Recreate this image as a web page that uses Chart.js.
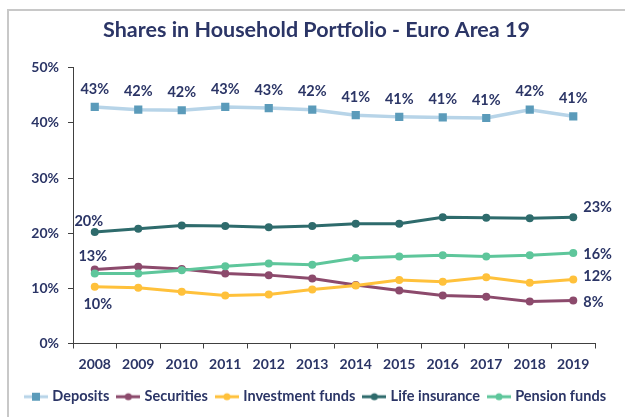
<!DOCTYPE html>
<html>
<head>
<meta charset="utf-8">
<script src="https://cdn.jsdelivr.net/npm/chart.js@4.4.0/dist/chart.umd.min.js"></script>
<style>
  html, body { margin: 0; padding: 0; background: #fff; }
  #wrap { position: relative; width: 625px; height: 417px; overflow: hidden; }
  #frame {
    position: absolute; left: 7px; top: 9px; width: 700px; height: 500px;
    border-left: 2px solid #c8c8c8; border-top: 2px solid #c8c8c8;
  }
  canvas { position: absolute; left: 0; top: 0; }
</style>
</head>
<body>
<div id="wrap">
  <div id="frame"></div>
  <canvas id="chart" width="625" height="417"></canvas>
</div>
<script>
// Data (percent of household portfolio)
const years = ["2008", "2009", "2010", "2011", "2012", "2013", "2014", "2015", "2016", "2017", "2018", "2019"];
const deposits = [42.9, 42.4, 42.3, 42.9, 42.7, 42.4, 41.4, 41.1, 41.0, 40.9, 42.4, 41.2];
const securities = [13.4, 13.9, 13.5, 12.7, 12.4, 11.8, 10.6, 9.6, 8.7, 8.5, 7.6, 7.8];
const investmentFunds = [10.3, 10.1, 9.4, 8.7, 8.9, 9.8, 10.5, 11.5, 11.2, 12.0, 11.0, 11.6];
const lifeInsurance = [20.2, 20.8, 21.4, 21.3, 21.1, 21.3, 21.7, 21.7, 22.9, 22.8, 22.7, 22.9];
const pensionFunds = [12.7, 12.7, 13.3, 14.0, 14.5, 14.3, 15.5, 15.8, 16.0, 15.8, 16.0, 16.4];
const yTicks = [0, 10, 20, 30, 40, 50];

const TEXT = "#2b3566";
const FONT = "Lato";

// small legend symbol: line with marker in the middle
function legendIcon(lineColor, markColor, style) {
  const c = document.createElement("canvas");
  c.width = 24;
  c.height = 12;
  const g = c.getContext("2d");
  g.strokeStyle = lineColor;
  g.lineWidth = 3;
  g.beginPath();
  g.moveTo(0, 6);
  g.lineTo(24, 6);
  g.stroke();
  g.fillStyle = markColor;
  if (style === "rect") {
    g.fillRect(8, 2, 8, 8);
  } else {
    g.beginPath();
    g.arc(12, 6, 3.5, 0, Math.PI * 2);
    g.fill();
  }
  return c;
}

// which points get a value label, and where (offset from the point)
const labelSpots = [
  years.map((_, i) => ({ i, dx: 0, dy: -18, align: "center" })),
  [{ i: 0, dx: -2, dy: -13, align: "center" }, { i: 11, dx: 10, dy: 2, align: "left" }],
  [{ i: 0, dx: 3, dy: 18, align: "center" }, { i: 11, dx: 10, dy: -3, align: "left" }],
  [{ i: 0, dx: -6, dy: -11, align: "center" }, { i: 11, dx: 10, dy: -10, align: "left" }],
  [{ i: 11, dx: 10, dy: 1, align: "left" }],
];

const valueLabels = {
  id: "valueLabels",
  afterDatasetsDraw(chart) {
    const ctx = chart.ctx;
    ctx.save();
    ctx.font = "bold 14.5px " + FONT;
    ctx.fillStyle = TEXT;
    ctx.textBaseline = "middle";
    labelSpots.forEach((spots, d) => {
      const meta = chart.getDatasetMeta(d);
      const values = chart.data.datasets[d].data;
      spots.forEach((s) => {
        const pt = meta.data[s.i];
        ctx.textAlign = s.align;
        ctx.fillText(Math.round(values[s.i]) + "%", pt.x + s.dx, pt.y + s.dy);
      });
    });
    ctx.restore();
  },
};

function series(label, data, lineColor, markColor, style, width, order) {
  return {
    label,
    data,
    borderColor: lineColor,
    backgroundColor: markColor,
    pointBackgroundColor: markColor,
    pointBorderColor: markColor,
    pointStyle: style,
    pointRadius: style === "rect" ? 5.8 : 4,
    pointBorderWidth: 0,
    borderWidth: width,
    tension: 0,
    order,
    legendIcon: legendIcon(lineColor, markColor, style),
  };
}

new Chart(document.getElementById("chart"), {
  type: "line",
  data: {
    labels: years,
    datasets: [
      series("Deposits", deposits, "#b7d4e8", "#5b9bba", "rect", 3.5, 4),
      series("Securities", securities, "#8c4a6c", "#8c4a6c", "circle", 3, 3),
      series("Investment funds", investmentFunds, "#ffc13b", "#ffc13b", "circle", 3, 2),
      series("Life insurance", lifeInsurance, "#2e6b6c", "#2e6b6c", "circle", 3, 1),
      series("Pension funds", pensionFunds, "#5ec69b", "#5ec69b", "circle", 3, 0),
    ],
  },
  options: {
    responsive: false,
    animation: false,
    layout: { padding: { left: 8, right: 0, top: 0, bottom: 3 } },
    plugins: {
      title: {
        display: true,
        text: "Shares in Household Portfolio - Euro Area 19",
        color: TEXT,
        font: { family: FONT, size: 21.5, weight: "bold" },
        padding: { top: 17, bottom: 25 },
      },
      legend: {
        position: "bottom",
        labels: {
          usePointStyle: true,
          pointStyleWidth: 18,
          padding: 10,
          color: TEXT,
          font: { family: FONT, size: 14.5, weight: "bold" },
          sort: (a, b) => a.datasetIndex - b.datasetIndex,
          generateLabels(chart) {
            return chart.data.datasets.map((ds, i) => ({
              text: ds.label,
              datasetIndex: i,
              pointStyle: ds.legendIcon,
              fillStyle: ds.borderColor,
              strokeStyle: ds.borderColor,
              fontColor: TEXT,
              lineWidth: 0,
            }));
          },
        },
      },
      tooltip: { enabled: false },
    },
    scales: {
      x: {
        offset: true,
        afterFit: (s) => { s.height = 36; },
        grid: { display: true, offset: true, drawOnChartArea: false, drawTicks: true, tickLength: 5, color: "#404040" },
        border: { color: "#404040", width: 1 },
        ticks: { color: TEXT, padding: 8, font: { family: FONT, size: 14, weight: "bold" }, maxRotation: 0 },
      },
      y: {
        min: 0,
        max: 50,
        afterFit: (s) => { s.width = 65; },
        afterBuildTicks: (s) => { s.ticks = yTicks.map((v) => ({ value: v })); },
        grid: { display: true, drawOnChartArea: false, drawTicks: true, tickLength: 5, color: "#404040" },
        border: { color: "#404040", width: 1 },
        ticks: { color: TEXT, padding: 9, font: { family: FONT, size: 14, weight: "bold" }, callback: (v) => v + "%" },
      },
      // empty right-hand spacer so the plot ends where the original one does
      spacer: {
        type: "linear",
        position: "right",
        grid: { display: false },
        border: { display: false },
        ticks: { display: false },
        afterFit: (s) => { s.width = 30; },
      },
    },
  },
  plugins: [valueLabels],
});
</script>
</body>
</html>
